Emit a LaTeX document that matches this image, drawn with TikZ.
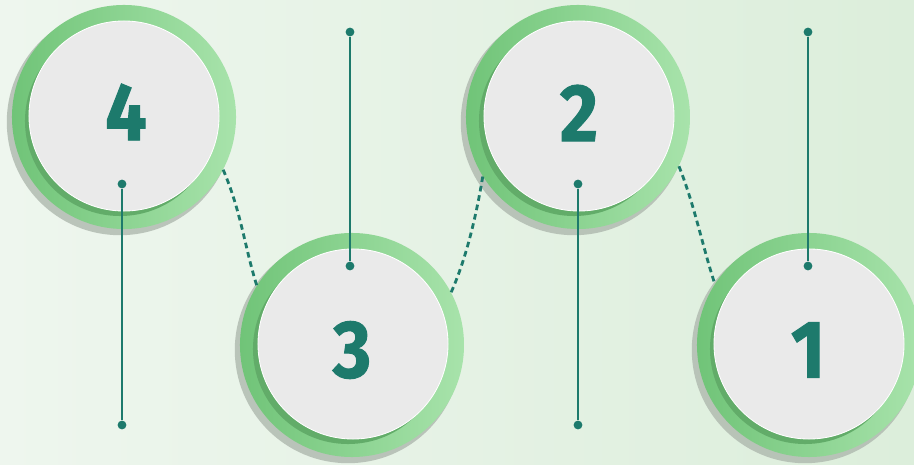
\documentclass[tikz,border=0pt]{standalone}
\usepackage{fontspec}
\usetikzlibrary{calc}
\newfontfamily\numfont{Fira Sans}[FakeStretch=0.9, BoldFeatures={FakeBold=1.2}]
\definecolor{bgleft}{HTML}{EEF6EE}
\definecolor{bgright}{HTML}{DCEEDB}
\definecolor{ringleft}{HTML}{70C478}
\definecolor{ringright}{HTML}{A8E3AB}
\definecolor{ringshade}{HTML}{62AC69}
\definecolor{diskgray}{HTML}{EAEAEA}
\definecolor{stepteal}{HTML}{1D7A6C}
\definecolor{dropgray}{HTML}{AEB8AE}

\begin{document}
\begin{tikzpicture}[x=0.025cm, y=-0.025cm,
    ring/.style={circle, inner sep=0pt, minimum size=5.6cm, left color=ringleft, right color=ringright},
    disk/.style={circle, inner sep=0pt, minimum size=4.75cm, fill=diskgray, draw=white, line width=0.6pt},
    num/.style={text=stepteal, font=\numfont\bfseries\fontsize{58}{58}\selectfont, inner sep=0pt},
    pin/.style={circle, fill=stepteal, inner sep=0pt, minimum size=0.22cm},
    stem/.style={draw=stepteal, line width=1.3pt},
    link/.style={draw=stepteal, line width=2pt, dash pattern=on 4pt off 2.8pt}]

    \useasboundingbox (0,0) rectangle (914,465);
    \fill[left color=bgleft, right color=bgright] (0,0) rectangle (914,465);

    \fill[dropgray, opacity=0.8] (120,122) circle (2.83cm);
    \fill[dropgray, opacity=0.8] (348,350) circle (2.83cm);
    \fill[dropgray, opacity=0.8] (574,122) circle (2.83cm);
    \fill[dropgray, opacity=0.8] (805,350) circle (2.83cm);

    \node (c4) at (124,117) [ring]{};
    \node (c3) at (352,345) [ring]{};
    \node (c2) at (578,117) [ring]{};
    \node (c1) at (809,345) [ring]{};

    \fill[ringshade] (120,121) circle (2.375cm);
    \fill[ringshade] (348,349) circle (2.375cm);
    \fill[ringshade] (574,121) circle (2.375cm);
    \fill[ringshade] (805,349) circle (2.375cm);

    \node (d4) at (124,116) [disk]{};
    \node (d3) at (353,344) [disk]{};
    \node (d2) at (579,116) [disk]{};
    \node (d1) at (809,344) [disk]{};

    \node (n4) at (126,112) [num]{4};
    \node (n3) at (352,350) [num]{3};
    \node (n2) at (579,113) [num]{2};
    \node (n1) at (808,350) [num]{1};

    \draw[link] (c4.-28) .. controls +(18,42) and +(-12,-38) .. (c3.148);
    \draw[link] (c3.28) .. controls +(16,-36) and +(-6,36) .. (c2.212);
    \draw[link] (c2.-26) .. controls +(16,40) and +(-12,-36) .. (c1.147);

    \node (t4) at (122,184) [pin]{};
    \node (b4) at (122,425) [pin]{};
    \node (t3) at (350,32) [pin]{};
    \node (b3) at (350,266) [pin]{};
    \node (t2) at (578,184) [pin]{};
    \node (b2) at (578,425) [pin]{};
    \node (t1) at (808,32) [pin]{};
    \node (b1) at (808,266) [pin]{};

    \draw[stem] (t4) -- (b4);
    \draw[stem] (t3) -- (b3);
    \draw[stem] (t2) -- (b2);
    \draw[stem] (t1) -- (b1);
\end{tikzpicture}
\end{document}
